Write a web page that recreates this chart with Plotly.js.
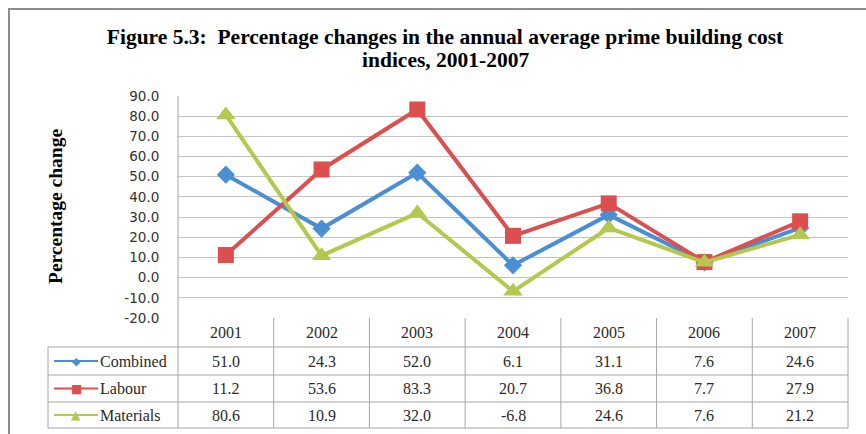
<!DOCTYPE html>
<html><head><meta charset="utf-8">
<script src="https://cdn.plot.ly/plotly-3.0.1.min.js"></script>
<style>html,body{margin:0;padding:0;background:#fff}</style>
</head><body><div id="chart" style="width:866px;height:434px"></div>
<script>
const years = ['2001','2002','2003','2004','2005','2006','2007'];
const seriesNames = ['Combined','Labour','Materials'];
const combined = [51.0,24.3,52.0,6.1,31.1,7.6,24.6];
const labour = [11.2,53.6,83.3,20.7,36.8,7.7,27.9];
const materials = [80.6,10.9,32.0,-6.8,24.6,7.6,21.2];
const yTicks = [-20,-10,0,10,20,30,40,50,60,70,80,90];

const colors = ['#4a8fd4','#dc4f4f','#b3c84c'];
const symbols = ['diamond','square','triangle-up'];
const msizes = [14,16,17];
const glyphs = ['\u25C6','\u25A0','\u25B2'];
const seriesVals = [combined, labour, materials];

// geometry of plot area in pixels
const L = 178, R = 848, T = 96, B = 318;
const px = p => (p - L) / (R - L);
const py = p => (B - p) / (B - T);

const traces = seriesNames.map((n, i) => ({
  type: 'scatter', mode: 'lines+markers', name: n,
  x: years, y: seriesVals[i],
  line: {color: colors[i], width: 4},
  marker: {symbol: symbols[i], size: msizes[i], color: colors[i]},
  cliponaxis: false
}));

const tableLine = '#a6a6a6';
const shapes = [];
const annotations = [];
const rowLines = [347, 375, 402, 428];
const rowCenters = [361, 388.5, 415];
const headerCenter = 332;

rowLines.forEach(r => shapes.push({type:'line', xref:'paper', yref:'paper',
  x0: px(48), x1: px(R), y0: py(r), y1: py(r), line:{color: tableLine, width:1}}));
shapes.push({type:'line', xref:'paper', yref:'paper', x0:0, x1:0, y0:1, y1:py(428), line:{color:tableLine,width:1}});
shapes.push({type:'line', xref:'paper', yref:'paper', x0:1, x1:1, y0:0, y1:py(428), line:{color:tableLine,width:1}});
shapes.push({type:'line', xref:'paper', yref:'paper', x0:px(48), x1:px(48), y0:py(347), y1:py(428), line:{color:tableLine,width:1}});
for (let i = 0; i < years.length - 1; i++) {
  shapes.push({type:'line', xref:'x', yref:'paper', x0:i+0.5, x1:i+0.5, y0:0, y1:py(428), line:{color:tableLine,width:1}});
}
shapes.push({type:'path', xref:'paper', yref:'paper',
  path: `M ${px(9)} ${py(460)} L ${px(9)} ${py(9)} L ${px(900)} ${py(9)}`,
  line:{color:'#8c8c8c', width:2}});

const tableFont = {family:'Liberation Serif, Times New Roman, serif', size:16, color:'#2a2a2a'};
years.forEach((yr, j) => {
  annotations.push({xref:'x', yref:'paper', x: j, y: py(headerCenter), text: yr,
    showarrow:false, xanchor:'center', yanchor:'middle', font: tableFont});
  seriesVals.forEach((vals, i) => {
    annotations.push({xref:'x', yref:'paper', x: j, y: py(rowCenters[i]), text: vals[j].toFixed(1),
      showarrow:false, xanchor:'center', yanchor:'middle', font: tableFont});
  });
});
seriesNames.forEach((n, i) => {
  shapes.push({type:'line', xref:'paper', yref:'paper', x0:px(54), x1:px(98),
    y0:py(rowCenters[i]), y1:py(rowCenters[i]), line:{color:colors[i], width:2}});
  annotations.push({xref:'paper', yref:'paper', x:px(76), y:py(rowCenters[i]), text: glyphs[i],
    showarrow:false, xanchor:'center', yanchor:'middle', font:{size: i===0?11:12, color:colors[i], family:'DejaVu Sans'}});
  annotations.push({xref:'paper', yref:'paper', x:px(98), y:py(rowCenters[i]), text: n,
    showarrow:false, xanchor:'left', yanchor:'middle', font: tableFont});
});
annotations.push({xref:'paper', yref:'paper', x:px(55), y:py(207), text:'Percentage change',
  textangle:-90, showarrow:false, xanchor:'center', yanchor:'middle',
  font:{family:'Liberation Serif, Times New Roman, serif', size:19.5, color:'#000', weight:'bold'}});
// second title line
annotations.push({xref:'paper', yref:'paper', x:px(445), y:py(60), text:'<b>indices, 2001-2007</b>',
  showarrow:false, xanchor:'center', yanchor:'middle',
  font:{family:'Liberation Serif, Times New Roman, serif', size:21.5, color:'#000'}});

const layout = {
  width: 866, height: 434,
  margin: {l: L, r: 866 - R, t: T, b: 434 - B},
  paper_bgcolor: '#fff', plot_bgcolor: '#fff',
  showlegend: false,
  title: {text: '<b>Figure 5.3:  Percentage changes in the annual average prime building cost</b>',
    x: 445/866, xref:'container', xanchor:'center', y: 1 - 36/434, yref:'container', yanchor:'middle',
    font: {family:'Liberation Serif, Times New Roman, serif', size:21.5, color:'#000'}},
  xaxis: {type:'category', range:[-0.5, 6.5], showticklabels:false, showgrid:false, zeroline:false,
    showline:false, ticks:''},
  yaxis: {range:[-20, 90], tickvals: yTicks, ticktext: yTicks.map(v => v.toFixed(1)),
    showgrid:true, gridcolor:'#c4c4c4', gridwidth:1, zeroline:false,
    showline:false, ticks:'outside', ticklen:15, tickcolor:'rgba(0,0,0,0)',
    tickfont:{family:'DejaVu Sans, Verdana, sans-serif', size:13.5, color:'#333'}},
  shapes, annotations
};

Plotly.newPlot('chart', traces, layout, {staticPlot:true, displayModeBar:false});
</script>
</body></html>
